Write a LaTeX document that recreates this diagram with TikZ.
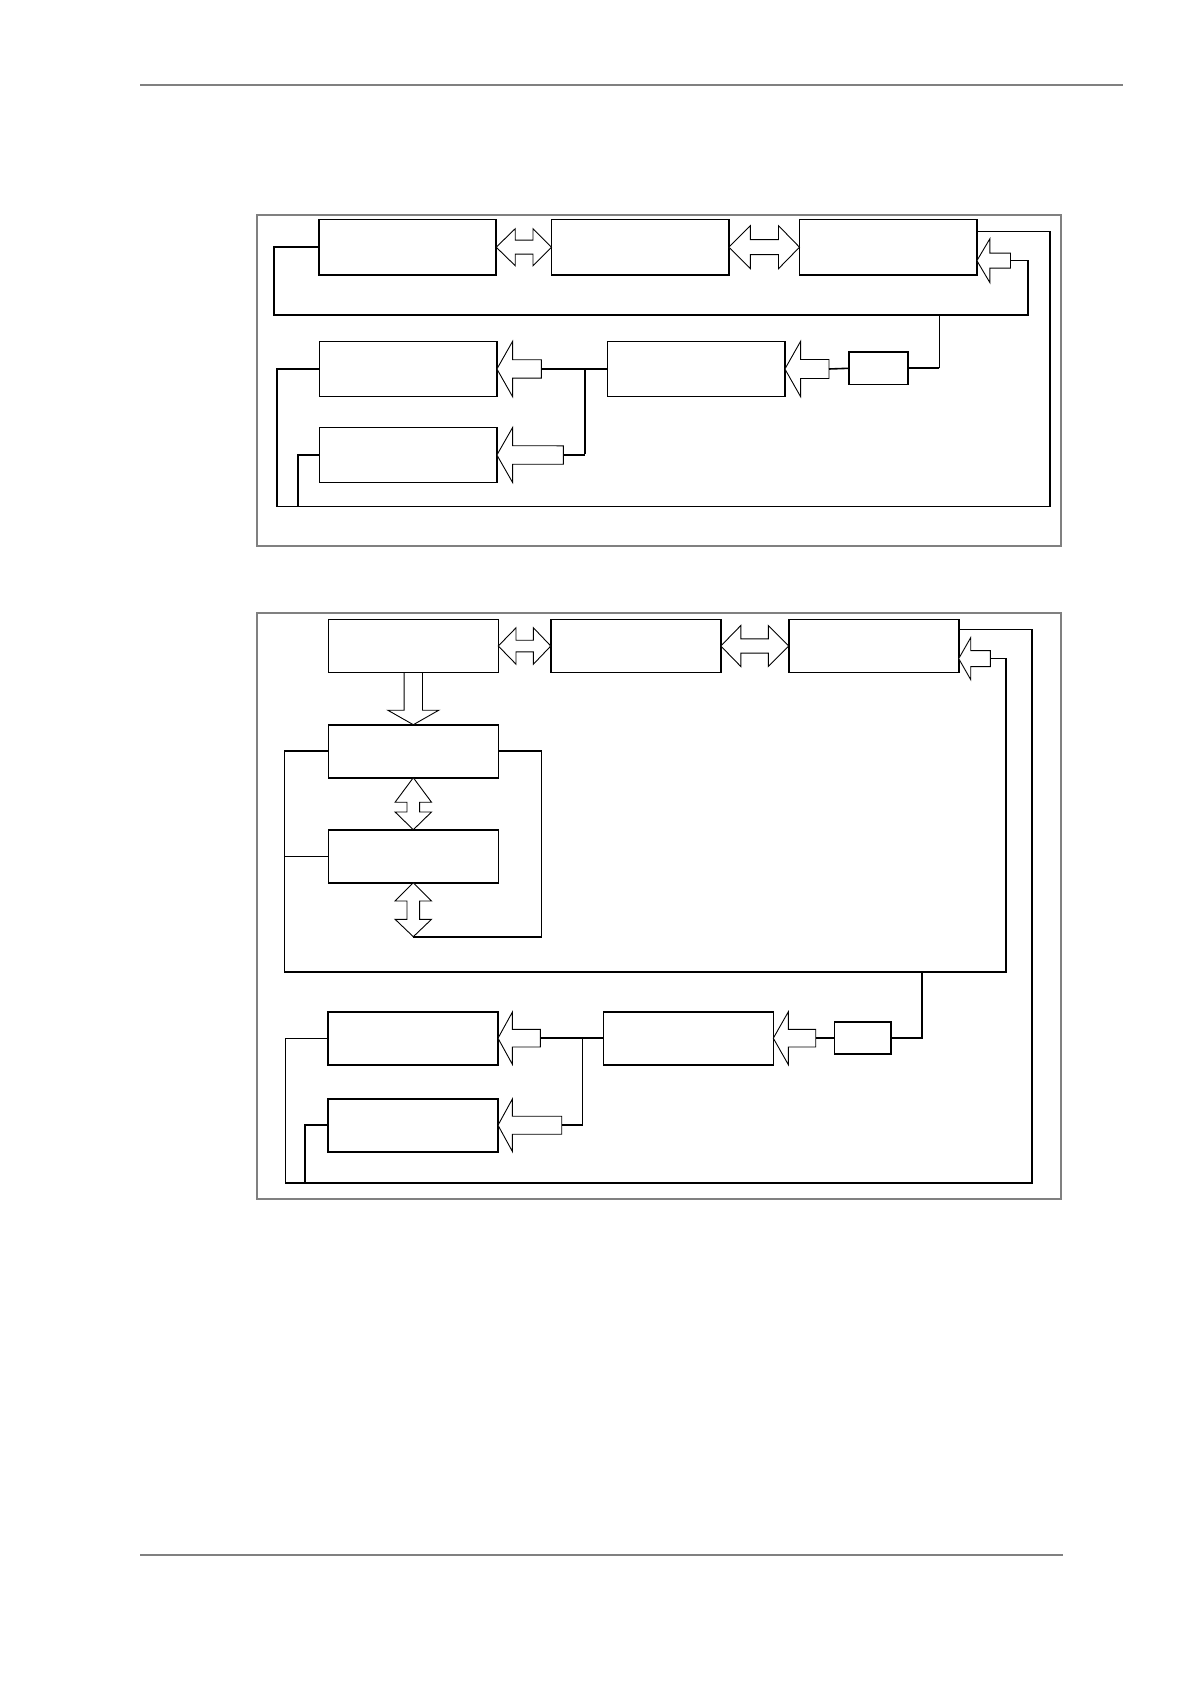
\documentclass[tikz,border=0pt]{standalone}
\usetikzlibrary{calc}

% block arrows: tip, tail, head length, head half width, shaft half width
\newcommand{\larrow}[5]{\draw[blockarrow] #1 -- ++(#3,-#4) -- ++(0,#4-#5) -- ($#2+(0,-#5)$) -- ($#2+(0,#5)$) -- ($#1+(#3,#5)$) -- ++(0,#4-#5) -- cycle;}
\newcommand{\darrow}[5]{\draw[blockarrow] #1 -- ++(#4,-#3) -- ++(#5-#4,0) -- ($#2+(#5,0)$) -- ($#2+(-#5,0)$) -- ($#1+(-#5,-#3)$) -- ++(#5-#4,0) -- cycle;}
% double arrows: tip, tip, head length, head length, head half width, shaft half width
\newcommand{\hdarrow}[6]{\draw[blockarrow] #1 -- ++(#3,-#5) -- ++(0,#5-#6) -- ($#2+(-#4,-#6)$) -- ++(0,#6-#5) -- #2 -- ++(-#4,#5) -- ++(0,#6-#5) -- ($#1+(#3,#6)$) -- ++(0,#5-#6) -- cycle;}
\newcommand{\vdarrow}[6]{\draw[blockarrow] #1 -- ++(#5,#3) -- ++(#6-#5,0) -- ($#2+(#6,-#4)$) -- ++(#5-#6,0) -- #2 -- ++(-#5,-#4) -- ++(#5-#6,0) -- ($#1+(-#6,#3)$) -- ++(#6-#5,0) -- cycle;}

\begin{document}
\begin{tikzpicture}[x=0.5pt, y=-0.5pt,
        box/.style={draw, rectangle, line width=0.8pt, minimum width=88.7pt, minimum height=27.6pt, inner sep=0pt, outer sep=0pt},
        boxb/.style={box, minimum width=85pt, minimum height=26.5pt},
        smallbox/.style={box, minimum width=29.6pt, minimum height=16.3pt},
        smallboxb/.style={box, minimum width=28.2pt, minimum height=16pt},
        wire/.style={line width=0.8pt},
        thinwire/.style={line width=0.45pt},
        blockarrow/.style={draw, fill=white, line width=0.45pt, line join=miter},
        frame/.style={draw=gray, line width=0.75pt},
        rule/.style={draw=gray, line width=1.3pt}
    ]
        \useasboundingbox (0,0) rectangle (1191,1684);

        % Page rules and frames
        \draw[rule] (140,85) -- (1123,85);
        \draw[rule] (140,1555) -- (1063,1555);
        \draw[frame] (257,215) rectangle (1061,546);
        \draw[frame] (257,613) rectangle (1061,1199);

        % First frame: boxes
        \node[box] (topl1) at (407.5,247.2) {};
        \node[box] (topm1) at (640.2,247.2) {};
        \node[box] (topr1) at (888.2,247.2) {};
        \node[box] (outu1) at (408.2,369) {};
        \node[box] (outd1) at (408.2,455) {};
        \node[box] (mid1) at (696.2,369) {};
        \node[smallbox] (sw1) at (878.3,368.3) {};

        \coordinate (tailr1) at (1010.5,260.7);
        \coordinate (tailu1) at (541.3,369);
        \coordinate (taild1) at (563.3,455);
        \coordinate (tailm1) at (829,369);
        \coordinate (join1) at (585,369);

        % First frame: arrows
        \hdarrow{(topl1.east)}{(topm1.west)}{19}{18.5}{18.5}{7}
        \hdarrow{(topm1.east)}{(topr1.west)}{21.5}{21}{21.5}{7.5}
        \larrow{($(topr1.east)+(0,13.5)$)}{(tailr1)}{13}{22}{7.5}
        \larrow{(outu1.east)}{(tailu1)}{15.7}{27.7}{9.2}
        \larrow{(outd1.east)}{(taild1)}{15.7}{27.5}{9.2}
        \larrow{(mid1.east)}{(tailm1)}{15.7}{27.7}{9.5}

        % First frame: wires
        \draw[wire] (tailr1) -- ++(17.5,0) -- ++(0,54.3) -| ([xshift=-22.35pt]topl1.west) -- (topl1.west);
        \draw[wire] ($(topr1.east)+(0,-15.5)$) -- ++(73,0) -- ++(0,274.6) -| ([xshift=-21.3pt]outu1.west) -- (outu1.west);
        \draw[wire] (outd1.west) -- ++(-21.3,0) -- ++(0,51.3);
        \draw[wire] (tailu1) -- (mid1.west);
        \draw[wire] (join1) -- ++(0,85);
        \draw[wire] (taild1) -- ++(21.7,0);
        \draw[wire] (tailm1) -- (sw1.west);
        \draw[wire] (sw1.east) -- ++(31.3,0);
        \draw[thinwire] ($(sw1.east)+(31.3,0)$) -- ++(0,-53.3);

        % Second frame: boxes
        \node[boxb] (topl2) at (413.3,646) {};
        \node[boxb] (topm2) at (635.8,646) {};
        \node[boxb] (topr2) at (873.7,646) {};
        \node[boxb] (sub2) at (413.3,751.2) {};
        \node[boxb] (subb2) at (413.3,856.2) {};
        \node[boxb] (outu2) at (413,1038.2) {};
        \node[boxb] (outd2) at (413,1125.2) {};
        \node[boxb] (mid2) at (688.3,1038.2) {};
        \node[smallboxb] (sw2) at (862.8,1038.2) {};

        \coordinate (tailr2) at (990.3,658.6);
        \coordinate (tipg2) at (413.3,936.7);
        \coordinate (tailu2) at (540.3,1038.2);
        \coordinate (taild2) at (561.7,1125.2);
        \coordinate (tailm2) at (815.7,1038.2);
        \coordinate (join2) at (582.7,1038.2);

        % Second frame: arrows
        \hdarrow{(topl2.east)}{(topm2.west)}{17.7}{17.4}{18.2}{5.8}
        \hdarrow{(topm2.east)}{(topr2.west)}{20}{20.4}{20.5}{7.1}
        \larrow{($(topr2.east)+(0,12.6)$)}{(tailr2)}{12}{21}{8}
        \darrow{(sub2.north)}{(topl2.south)}{14.5}{25.5}{9.2}
        \vdarrow{(sub2.south)}{(subb2.north)}{24.5}{17.7}{18.2}{6.3}
        \vdarrow{(subb2.south)}{(tipg2)}{18.3}{17.4}{18.2}{6.3}
        \larrow{(outu2.east)}{(tailu2)}{14.4}{26.2}{8.8}
        \larrow{(outd2.east)}{(taild2)}{14.4}{26.3}{9}
        \larrow{(mid2.east)}{(tailm2)}{15}{26.4}{8.8}

        % Second frame: wires
        \draw[wire] (tipg2) -| ([xshift=21.5pt]sub2.east) -- (sub2.east);
        \draw[wire] (tailr2) -- ++(15.7,0) -- ++(0,313.1) -| ([xshift=-22pt]sub2.west) -- (sub2.west);
        \draw[thinwire] (subb2.west) -- ++(-44,0);
        \draw[thinwire] ($(topr2.east)+(0,-16.9)$) -- ++(73.3,0);
        \draw[wire] ($(topr2.east)+(73.3,-16.9)$) -- ++(0,553.8) -| ([xshift=-21.2pt]outu2.west);
        \draw[thinwire] ([xshift=-21.2pt]outu2.west) -- (outu2.west);
        \draw[wire] (outd2.west) -- ++(-23,0) -- ++(0,57.5);
        \draw[wire] (tailu2) -- (mid2.west);
        \draw[thinwire] (join2) -- ++(0,87);
        \draw[wire] (taild2) -- ++(21,0);
        \draw[wire] (tailm2) -- (sw2.west);
        \draw[wire] (sw2.east) -- ++(30.7,0) -- ++(0,-66.5);

    \end{tikzpicture}
\end{document}
